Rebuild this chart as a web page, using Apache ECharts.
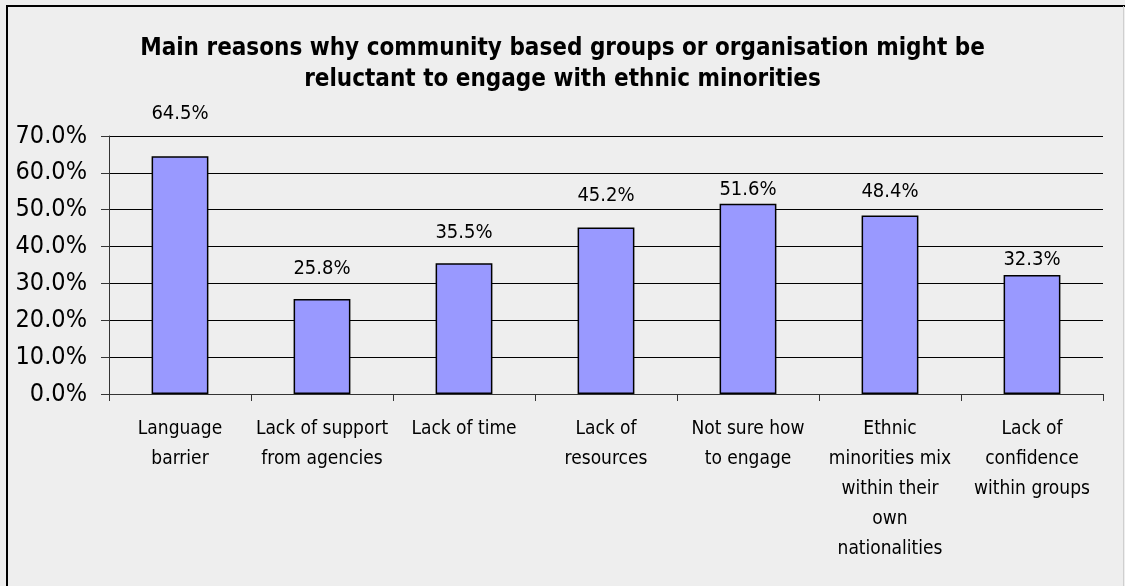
<!DOCTYPE html>
<html><head><meta charset="utf-8">
<script src="https://cdn.jsdelivr.net/npm/echarts@6/dist/echarts.min.js"></script>
<style>html,body{margin:0;padding:0;background:#fff}#c{width:1125px;height:586px}</style>
</head><body><div id="c"></div>
<script>
const titleText = "Main reasons why community based groups or organisation might be\nreluctant to engage with ethnic minorities";
const categories = ["Language\nbarrier","Lack of support\nfrom agencies","Lack of time","Lack of\nresources","Not sure how\nto engage","Ethnic\nminorities mix\nwithin their\nown\nnationalities","Lack of\nconfidence\nwithin groups"];
const values = [64.5, 25.8, 35.5, 45.2, 51.6, 48.4, 32.3];
const yMin = 0, yMax = 70, yStep = 10;

// label gaps above bars (style only, as placed in the original)
const labelGaps = [32, 20, 20, 22, 4, 14, 5];

const FONT = "DejaVu Sans Condensed";
const chart = echarts.init(document.getElementById('c'), null, {renderer:'canvas'});
chart.setOption({
  backgroundColor: '#eeeeee',
  animation: false,
  graphic: [
    {type:'polyline', shape:{points:[[7,586],[7,6],[1125,6]]}, style:{fill:'none', stroke:'#000', lineWidth:2}},
    {type:'line', shape:{x1:1123.5,y1:6,x2:1123.5,y2:586}, style:{stroke:'#cfcfcf', lineWidth:1}}
  ],
  title: {
    text: titleText, left: 'center', top: 28,
    textStyle: {fontFamily: FONT, fontWeight: 'bold', fontSize: 24, color: '#000', lineHeight: 31}
  },
  grid: {left: 109, right: 22, top: 136, bottom: 192, containLabel: false},
  xAxis: {
    type: 'category', data: categories,
    axisLine: {lineStyle: {color: '#333', width: 1}},
    axisTick: {show: true, length: 7, alignWithLabel: false, lineStyle: {color: '#333'}},
    axisLabel: {interval: 0, margin: 20, fontFamily: FONT, fontSize: 19, color: '#000', lineHeight: 30}
  },
  yAxis: {
    type: 'value', min: yMin, max: yMax, interval: yStep,
    axisLine: {show: true, lineStyle: {color: '#333'}},
    axisTick: {show: true, length: 8, inside: false, lineStyle: {color: '#333'}},
    splitLine: {show: true, lineStyle: {color: '#000', width: 1}},
    axisLabel: {margin: 22, fontFamily: FONT, fontSize: 25, color: '#000', formatter: v => v.toFixed(1) + '%'}
  },
  series: [{
    type: 'bar',
    data: values.map((v, i) => ({value: v, label: {distance: labelGaps[i]}})),
    barWidth: '40%',
    itemStyle: {color: '#9999ff', borderColor: '#000', borderWidth: 1.5},
    label: {show: true, position: 'top', fontFamily: FONT, fontSize: 20, color: '#000', formatter: p => p.value.toFixed(1) + '%'}
  }]
});
</script></body></html>
